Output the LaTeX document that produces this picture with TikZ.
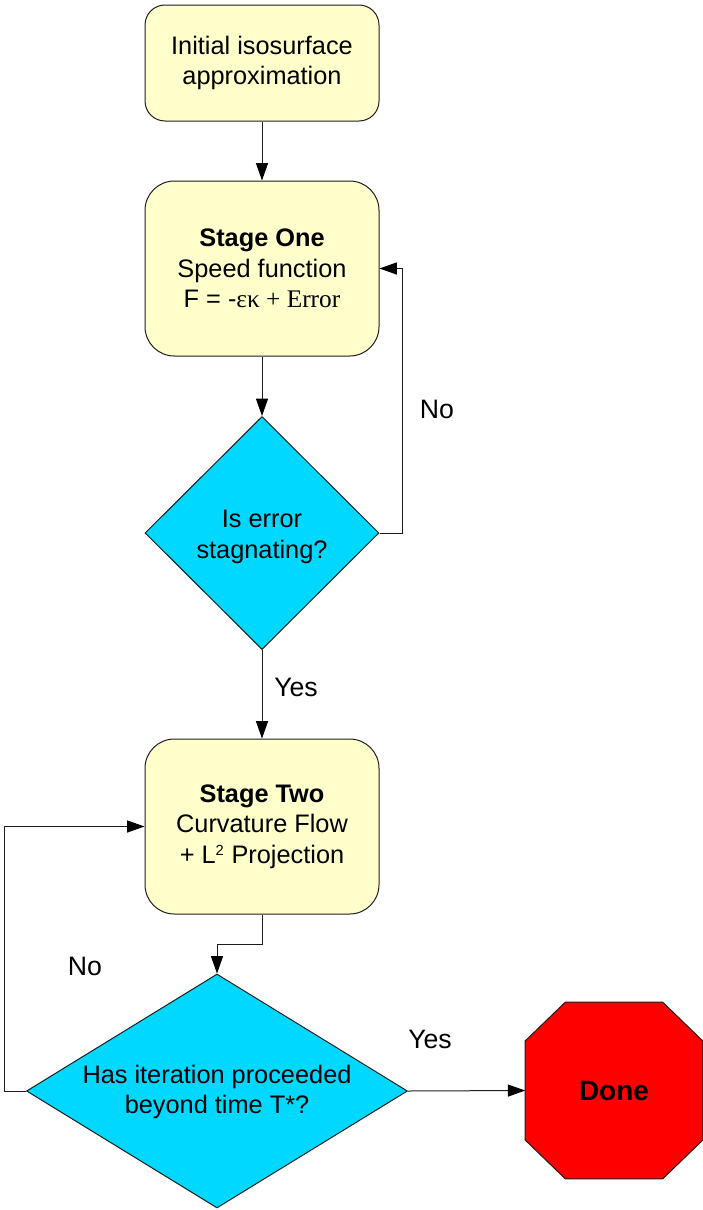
\documentclass[tikz,border=0pt]{standalone}
\usepackage{fontspec}
\setmainfont{Liberation Sans}
\newfontfamily\serifpart{Liberation Serif}
\usetikzlibrary{shapes.geometric,arrows.meta,backgrounds}
\definecolor{boxfill}{RGB}{255,255,204}
\definecolor{diafill}{RGB}{0,216,255}
\definecolor{linec}{RGB}{30,30,30}
\definecolor{donered}{RGB}{255,0,0}
\begin{document}
\begin{tikzpicture}[x=0.75pt,y=-0.75pt,
  txt/.style={font=\fontsize{19}{23}\selectfont, align=center},
  box/.style={draw=linec, line width=0.75pt, fill=boxfill, minimum width=175.5pt, txt},
  dia/.style={diamond, draw=linec, line width=0.75pt, fill=diafill, inner sep=0pt, aspect=1},
  arr/.style={draw=linec, line width=0.75pt, -{Triangle[length=13pt,width=9pt,color=black]}},
  lab/.style={font=\fontsize{20}{24}\selectfont},
]
\useasboundingbox (0,0) rectangle (703,1210);

\node[box, minimum height=87pt, rounded corners=15pt] (b1) at (262,63)
  {Initial isosurface\\approximation};
\node[box, minimum height=131.25pt, rounded corners=22pt] (b2) at (262,268.5)
  {\textbf{Stage One}\\Speed function\\F = -{\serifpart εκ + Error}};
\node[dia, minimum width=175.5pt, minimum height=174.75pt] (d1) at (262,533) {};
\node[txt] (d1t) at (262,537) {Is error\\stagnating?};
\node[box, minimum height=131.25pt, rounded corners=22pt] (b3) at (262,826.5)
  {\textbf{Stage Two}\\Curvature Flow\\+ L\textsuperscript{\fontsize{11}{11}\selectfont 2} Projection};
\node[dia, minimum width=285.75pt, minimum height=175.5pt] (d2) at (217,1091) {};
\node[txt] (d2t) at (217,1092) {Has iteration proceeded\\beyond time T*?};
\node[minimum width=132.75pt, minimum height=132pt, inner sep=0pt,
      font=\fontsize{21}{25}\selectfont\bfseries] (done) at (614,1090.5) {Done};
\begin{scope}[on background layer]
\filldraw[fill=donered, draw=linec, line width=0.75pt]
  ([xshift=30pt]done.north west) -- ([xshift=-30pt]done.north east)
  -- ([yshift=-29pt]done.north east) -- ([yshift=29pt]done.south east)
  -- ([xshift=-30pt]done.south east) -- ([xshift=30pt]done.south west)
  -- ([yshift=29pt]done.south west) -- ([yshift=-29pt]done.north west) -- cycle;
\end{scope}

\draw[arr] (b1.south) -- (b2.north);
\draw[arr] (b2.south) -- (d1.north);
\draw[arr] (d1.east) -- ++(23,0) |- (b2.east);
\draw[arr] (d1.south) -- (b3.north);
\draw[arr] (b3.south) -- ++(0,30) -| (d2.north);
\draw[arr] (d2.west) -- ++(-22,0) |- (b3.west);
\draw[arr] (d2.east) -- (done.west);

\node[lab] (no1) at (437,409) {No};
\node[lab] (yes1) at (296,687) {Yes};
\node[lab] (no2) at (85,966) {No};
\node[lab] (yes2) at (430,1039) {Yes};
\end{tikzpicture}
\end{document}
